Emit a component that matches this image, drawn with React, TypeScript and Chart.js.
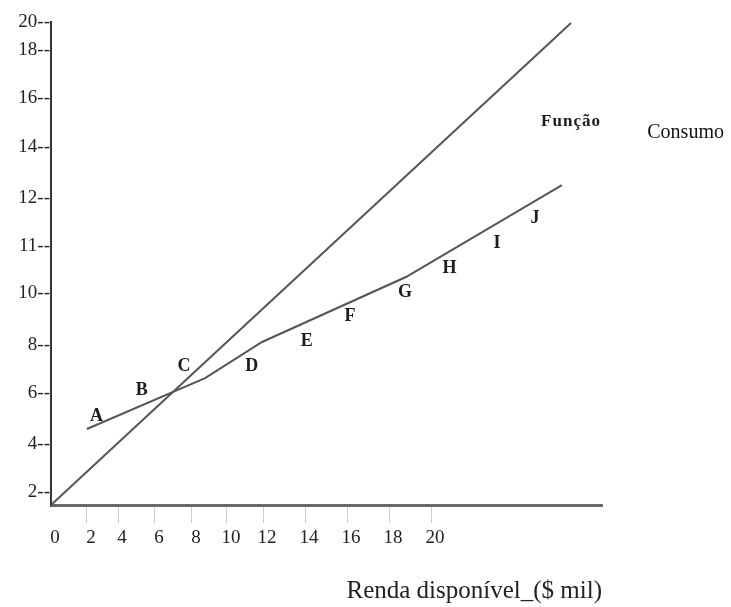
import React, { useEffect, useRef } from 'react';
import { Chart, registerables } from 'chart.js';

Chart.register(...registerables);

// Axis ticks (positions in axis units, labels as printed)
const xTickLabels = ['0', '2', '4', '6', '8', '10', '12', '14', '16', '18', '20'];
const xTickValues = [0, 1.89, 3.53, 5.47, 7.42, 9.26, 11.16, 13.37, 15.58, 17.79, 20];
const yTickLabels = ['2', '4', '6', '8', '10', '11', '12', '14', '16', '18', '20'];
const yTickValues = [0.68, 3.2, 5.89, 8.42, 11.16, 13.63, 16.16, 18.84, 21.42, 23.95, 25.4];

// 45-degree reference line
const diagonalX = [0, 27.37];
const diagonalY = [0, 25.37];

// Consumption function
const consumoX = [1.89, 8.11, 11.11, 18.68, 26.89];
const consumoY = [4.0, 6.68, 8.58, 12.0, 16.84];

// Point letters
const pointLetters = ['A', 'B', 'C', 'D', 'E', 'F', 'G', 'H', 'I', 'J'];
const letterX = [2.4, 4.77, 7.0, 10.56, 13.46, 15.74, 18.63, 20.97, 23.47, 25.47];
const letterY = [4.68, 6.05, 7.32, 7.32, 8.59, 9.91, 11.17, 12.47, 13.79, 15.09];

// Free text notes
const noteTexts = ['Função', 'Consumo'];
const noteX = [27.37, 33.4];
const noteY = [20.16, 19.58];

const axisTitle = 'Renda disponível_(\$ mil)';

const SERIF = "'Liberation Serif', 'Times New Roman', serif";

const textPlugin = {
  id: 'letterText',
  afterDatasetsDraw(chart: any) {
    const { ctx } = chart;
    const x = chart.scales.x;
    const y = chart.scales.y;
    ctx.save();
    ctx.textAlign = 'center';
    ctx.textBaseline = 'middle';
    ctx.fillStyle = '#1c1c1c';
    ctx.font = `bold 18px ${SERIF}`;
    pointLetters.forEach((t, i) => {
      ctx.fillText(t, x.getPixelForValue(letterX[i]), y.getPixelForValue(letterY[i]));
    });
    ctx.font = `bold 17px ${SERIF}`;
    (ctx as any).letterSpacing = '1px';
    ctx.fillText(noteTexts[0], x.getPixelForValue(noteX[0]), y.getPixelForValue(noteY[0]));
    (ctx as any).letterSpacing = '0px';
    ctx.font = `20px ${SERIF}`;
    ctx.fillStyle = '#111';
    ctx.fillText(noteTexts[1], x.getPixelForValue(noteX[1]), y.getPixelForValue(noteY[1]));
    ctx.restore();
  },
};

export default function App() {
  const ref = useRef<HTMLCanvasElement | null>(null);

  useEffect(() => {
    if (!ref.current) return;
    const chart = new Chart(ref.current, {
      type: 'line',
      data: {
        datasets: [
          {
            data: diagonalX.map((v, i) => ({ x: v, y: diagonalY[i] })),
            borderColor: '#555',
            borderWidth: 2,
            pointRadius: 0,
            tension: 0,
            clip: false as any,
          },
          {
            data: consumoX.map((v, i) => ({ x: v, y: consumoY[i] })),
            borderColor: '#555',
            borderWidth: 2,
            pointRadius: 0,
            tension: 0,
            clip: false as any,
          },
        ],
      },
      options: {
        animation: false,
        responsive: false,
        events: [],
        layout: { padding: { left: 0, top: 22.4, right: 129, bottom: 0 } },
        plugins: { legend: { display: false }, tooltip: { enabled: false } },
        scales: {
          x: {
            type: 'linear',
            min: 0,
            max: 29,
            afterBuildTicks: (s: any) => {
              s.ticks = xTickValues.map((v) => ({ value: v }));
            },
            afterFit: (s: any) => {
              s.height = 102;
            },
            ticks: {
              autoSkip: false,
              maxRotation: 0,
              padding: 4,
              labelOffset: 4,
              color: '#222',
              font: { family: SERIF, size: 19 },
              callback: (_v: any, i: number) => xTickLabels[i],
            },
            grid: {
              drawOnChartArea: false,
              drawTicks: true,
              tickLength: 18,
              tickColor: (c: any) => (c.index === 0 ? 'rgba(0,0,0,0)' : '#c9c9e2'),
              lineWidth: 1,
            },
            border: { display: true, color: '#6a6a6a', width: 3 },
            title: {
              display: true,
              text: axisTitle,
              align: 'end',
              color: '#222',
              font: { family: SERIF, size: 25 },
              padding: { top: 0, bottom: 1 },
            },
          },
          y: {
            type: 'linear',
            min: 0,
            max: 25.4,
            afterBuildTicks: (s: any) => {
              s.ticks = yTickValues.map((v) => ({ value: v }));
            },
            afterFit: (s: any) => {
              s.width = 51;
            },
            ticks: {
              autoSkip: false,
              padding: 1,
              color: '#222',
              font: { family: SERIF, size: 19 },
              callback: (_v: any, i: number) => yTickLabels[i] + '--',
            },
            grid: { display: false, drawTicks: false },
            border: { display: true, color: '#333', width: 2 },
          },
        },
      } as any,
      plugins: [textPlugin],
    });
    return () => chart.destroy();
  }, []);

  return (
    <div style={{ position: 'fixed', left: 0, top: 0, width: 731, height: 607, background: '#fff' }}>
      <canvas ref={ref} width={731} height={607} style={{ display: 'block', width: 731, height: 607 }} />
    </div>
  );
}
